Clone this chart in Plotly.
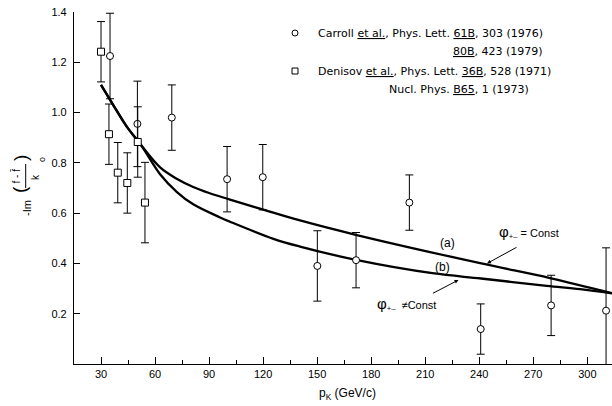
import plotly.graph_objects as go

# ---------------- data ----------------
carroll_x = [35, 50.2, 69.3, 100, 119.8, 150.1, 171.6, 201.2, 240.8, 279.9, 310.4]
carroll_y = [1.225, 0.955, 0.98, 0.735, 0.743, 0.39, 0.413, 0.642, 0.139, 0.233, 0.212]
carroll_err = [0.17, 0.17, 0.13, 0.13, 0.13, 0.14, 0.11, 0.11, 0.10, 0.12, 0.25]

denisov_x = [30, 34.4, 39.3, 44.6, 50.4, 54.4]
denisov_y = [1.242, 0.914, 0.761, 0.72, 0.883, 0.642]
denisov_err = [0.12, 0.12, 0.12, 0.12, 0.14, 0.16]

curve_a_x = [30, 36.8, 44.3, 52.2, 62.8, 72, 81.2, 90, 101.6, 120.1, 140.5, 172, 240.5, 279.3, 313.7]
curve_a_y = [1.11, 1.03, 0.944, 0.871, 0.782, 0.737, 0.704, 0.680, 0.654, 0.614, 0.571, 0.513, 0.401, 0.342, 0.282]

curve_b_x = [30, 36.8, 44.3, 52.2, 62.8, 72, 81.2, 96.1, 101.6, 125.7, 140.5, 171.6, 214, 241, 277.5, 296, 313.7]
curve_b_y = [1.11, 1.03, 0.944, 0.871, 0.755, 0.685, 0.635, 0.583, 0.566, 0.498, 0.467, 0.414, 0.361, 0.34, 0.311, 0.298, 0.281]

x_tick_vals = [30, 60, 90, 120, 150, 180, 210, 240, 270, 300]
x_tick_text = ["30", "60", "90", "120", "150", "180", "210", "240", "270", "300"]
x_minor_vals = [15, 45, 75, 105, 135, 165, 195, 225, 255, 285]
y_tick_vals = [0.2, 0.4, 0.6, 0.8, 1.0, 1.2, 1.4]
y_tick_text = ["0.2", "0.4", "0.6", "0.8", "1.0", "1.2", "1.4"]

# ---------------- layout helpers ----------------
W, H = 612, 406
L, R, T, B = 74, 0, 12, 42
PW, PH = W - L - R, H - T - B
FONT = "Liberation Sans"
FONT2 = "DejaVu Sans"


def px(x):
    return (x - L) / PW


def py(y):
    return (H - B - y) / PH


def label(x, y, text, size=11, family=FONT, xanchor="center", yanchor="middle", angle=0):
    return dict(xref="paper", yref="paper", x=px(x), y=py(y), text=text, showarrow=False,
                xanchor=xanchor, yanchor=yanchor, textangle=angle,
                font=dict(family=family, size=size, color="black"))


fig = go.Figure()

fig.add_trace(go.Scatter(x=curve_a_x, y=curve_a_y, mode="lines",
                         line=dict(color="black", width=2.3, shape="spline", smoothing=1.0),
                         hoverinfo="skip"))
fig.add_trace(go.Scatter(x=curve_b_x, y=curve_b_y, mode="lines",
                         line=dict(color="black", width=2.3, shape="spline", smoothing=1.0),
                         hoverinfo="skip"))

fig.add_trace(go.Scatter(
    x=carroll_x, y=carroll_y, mode="markers",
    marker=dict(symbol="circle", size=7, color="white", line=dict(color="black", width=1)),
    error_y=dict(type="data", array=carroll_err, color="black", thickness=1, width=4),
    cliponaxis=False))
fig.add_trace(go.Scatter(
    x=denisov_x, y=denisov_y, mode="markers",
    marker=dict(symbol="square", size=7, color="white", line=dict(color="black", width=1)),
    error_y=dict(type="data", array=denisov_err, color="black", thickness=1, width=4),
    cliponaxis=False))

ann = []

# citations
ann.append(label(316, 33, "Carroll <u>et al.</u>, Phys. Lett. <u>61B</u>, 303 (1976)", 11, FONT2, xanchor="left"))
ann.append(label(545, 51, "<u>80B</u>, 423 (1979)", 11, FONT2, xanchor="right"))
ann.append(label(316, 71, "Denisov <u>et al.</u>, Phys. Lett. <u>36B</u>, 528 (1971)", 11, FONT2, xanchor="left"))
ann.append(label(531, 90, "Nucl. Phys. <u>B65</u>, 1 (1973)", 11, FONT2, xanchor="right"))

# curve labels
ann.append(label(447.5, 243, "(a)", 12))
ann.append(label(442, 266.5, "(b)", 12))
PHI = "<span style='font-size:15px'>\u03c6</span>"
ann.append(label(497, 232, PHI + "<sub>+\u2013</sub> = Const", 11, xanchor="left"))
ann.append(label(375, 304, PHI + "<sub>+\u2013</sub>  \u2260Const", 11, xanchor="left"))

# arrows
ann.append(dict(xref="paper", yref="paper", x=px(487), y=py(263.5), ax=31, ay=-17, text="",
                showarrow=True, arrowhead=2, arrowsize=0.8, arrowwidth=1, arrowcolor="black"))
ann.append(dict(xref="paper", yref="paper", x=px(458.5), y=py(280), ax=-27, ay=14, text="",
                showarrow=True, arrowhead=2, arrowsize=0.8, arrowwidth=1, arrowcolor="black"))

# x axis title
ann.append(label(347, 394, "p<sub>K</sub> (GeV/c)", 12))

# y axis title, built from rotated pieces
rot = -90
ann.append(label(27, 208, "-Im", 11, angle=rot))
ann.append(label(20, 190, "(", 19, angle=rot))
ann.append(label(20, 158, ")", 19, angle=rot))
ann.append(label(16.5, 176, "f - f\u0304", 10, angle=rot))
ann.append(label(35, 177, "k", 10, angle=rot))
ann.append(label(42, 160, "o", 9, angle=rot))

shapes = [
    dict(type="line", xref="paper", yref="paper", x0=px(25.7), x1=px(25.7), y0=py(164), y1=py(188),
         line=dict(color="black", width=1)),
    # legend symbols
    dict(type="circle", xref="paper", yref="paper", x0=px(292), x1=px(298), y0=py(36), y1=py(30),
         line=dict(color="black", width=1)),
    dict(type="rect", xref="paper", yref="paper", x0=px(292), x1=px(298), y0=py(74), y1=py(68),
         line=dict(color="black", width=1)),
]

fig.update_layout(
    width=W, height=H, margin=dict(l=L, r=R, t=T, b=B),
    paper_bgcolor="white", plot_bgcolor="white", showlegend=False,
    annotations=ann, shapes=shapes,
    font=dict(family=FONT, size=11, color="black"),
    xaxis=dict(range=[15, 313.7], tickmode="array", tickvals=x_tick_vals, ticktext=x_tick_text,
               ticks="inside", ticklen=7, tickwidth=1, tickcolor="black",
               showline=True, linecolor="black", linewidth=1.2, showgrid=False, zeroline=False,
               ticklabelstandoff=0, tickfont=dict(family=FONT, size=11, color="black"),
               minor=dict(tickmode="array", tickvals=x_minor_vals, ticks="inside", ticklen=4,
                          tickcolor="black", tickwidth=1, showgrid=False)),
    yaxis=dict(range=[0, 1.4], tickmode="array", tickvals=y_tick_vals, ticktext=y_tick_text,
               ticks="inside", ticklen=6, tickwidth=1, tickcolor="black",
               showline=True, linecolor="black", linewidth=1.2, showgrid=False, zeroline=False,
               ticklabelstandoff=4, tickfont=dict(family=FONT, size=11, color="black")),
)

fig.write_html("out.html")
